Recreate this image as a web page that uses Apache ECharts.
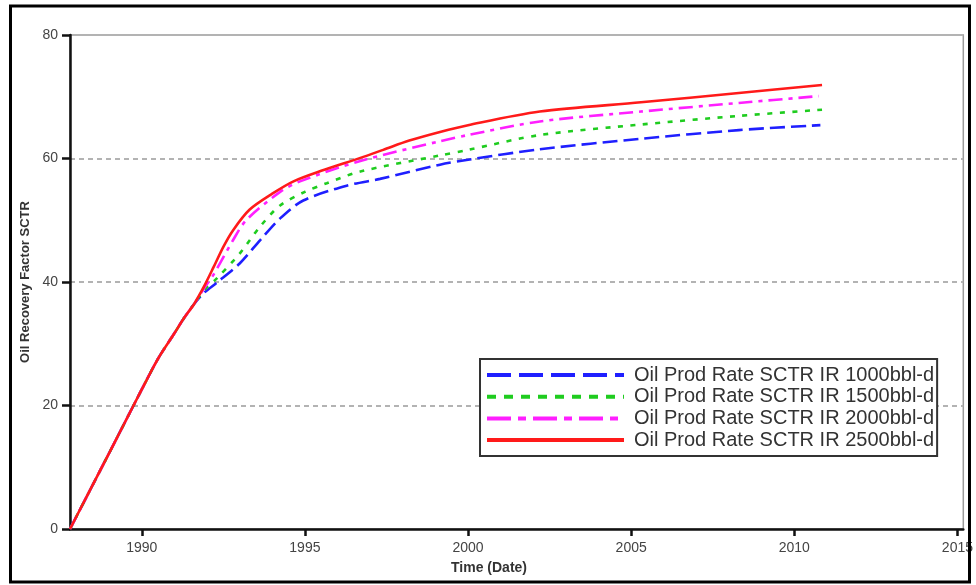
<!DOCTYPE html>
<html>
<head>
<meta charset="utf-8">
<script src="https://cdn.jsdelivr.net/npm/echarts@6/dist/echarts.min.js"></script>
<style>
html,body{margin:0;padding:0;background:#fff;}
#chart{width:976px;height:585px;}
</style>
</head>
<body>
<div id="chart"></div>
<script>
// ---- data ----
const seriesNames = [
  'Oil Prod Rate SCTR IR 1000bbl-d',
  'Oil Prod Rate SCTR IR 1500bbl-d',
  'Oil Prod Rate SCTR IR 2000bbl-d',
  'Oil Prod Rate SCTR IR 2500bbl-d'
];
const xTickValues = [1990, 1995, 2000, 2005, 2010, 2015];
const yTickValues = [0, 20, 40, 60, 80];

// shared early history (all cases identical)
const commonYears  = [1987.8, 1989.0, 1990.0, 1990.5, 1991.0, 1991.3, 1991.6];
const commonValues = [0, 12.3, 22.6, 27.6, 31.7, 34.2, 36.4];

const ir1000Years  = [1991.9, 1992.3, 1993.0, 1993.63, 1994.24, 1994.95, 1996.28, 1997.3, 1999.14, 2000.0, 2002.2, 2005.3, 2008.3, 2010.8];
const ir1000Values = [38.2, 39.9, 43.0, 46.8, 50.3, 53.2, 55.6, 56.7, 59.0, 59.8, 61.5, 63.2, 64.6, 65.4];

const ir1500Years  = [1991.9, 1992.3, 1993.0, 1993.63, 1994.24, 1995.0, 1995.67, 1996.7, 1999.14, 2000.0, 2002.2, 2005.3, 2008.3, 2010.85];
const ir1500Values = [38.6, 40.6, 44.6, 49.0, 52.4, 54.6, 56.0, 57.9, 60.5, 61.4, 63.8, 65.5, 66.9, 67.9];

const ir2000Years  = [1991.9, 1992.2, 1992.8, 1993.2, 1994.24, 1994.85, 1996.7, 1999.14, 2000.0, 2002.2, 2005.3, 2008.3, 2010.75];
const ir2000Values = [38.9, 41.2, 46.8, 50.0, 54.6, 56.3, 59.6, 62.8, 63.8, 66.0, 67.6, 69.0, 70.1];

const ir2500Years  = [1991.9, 1992.2, 1992.5, 1992.8, 1993.3, 1994.0, 1994.65, 1995.5, 1996.7, 1997.4, 1998.2, 1999.14, 2000.0, 2002.2, 2005.3, 2008.3, 2010.85];
const ir2500Values = [39.2, 42.4, 45.7, 48.4, 51.7, 54.3, 56.3, 58.0, 60.1, 61.4, 62.9, 64.3, 65.4, 67.6, 69.1, 70.6, 71.9];

function pairs(xs, ys) {
  const a = commonYears.map((x, i) => [x, commonValues[i]]);
  return a.concat(xs.map((x, i) => [x, ys[i]]));
}

const FONT = "'Liberation Sans', Arial, sans-serif";
const colors = ['#1f1fff', '#1fcc1f', '#ff1fff', '#ff1a1a'];
const plotDash = [[15, 6], [5, 7.5], [14, 6, 4, 6], 'solid'];
const legendDash = [[24, 8], [9, 8], [24, 7, 8, 7], 'solid'];
const dataSets = [
  [ir1000Years, ir1000Values],
  [ir1500Years, ir1500Values],
  [ir2000Years, ir2000Values],
  [ir2500Years, ir2500Values]
];

const chart = echarts.init(document.getElementById('chart'), null, {renderer: 'canvas'});

const option = {
  animation: false,
  backgroundColor: '#fff',
  textStyle: {fontFamily: FONT},
  grid: {
    left: 70, right: 12, top: 35, bottom: 56,
    show: true, borderColor: '#9a9a9a', borderWidth: 1.5, backgroundColor: 'transparent'
  },
  xAxis: {
    type: 'value',
    min: 1987.8,
    max: 2015.18,
    axisLine: {show: true, lineStyle: {color: '#111', width: 2.5}},
    axisTick: {show: true, customValues: xTickValues, length: 7, lineStyle: {color: '#111', width: 2.5}},
    axisLabel: {customValues: xTickValues, margin: 12, color: '#444', fontSize: 14, fontFamily: FONT,
      formatter: v => String(v)},
    splitLine: {show: false}
  },
  yAxis: {
    type: 'value',
    min: 0, max: 80, interval: 20,
    name: 'Oil Recovery Factor SCTR',
    nameLocation: 'middle',
    nameGap: 31,
    nameTextStyle: {color: '#333', fontSize: 13, fontWeight: 'bold', fontFamily: FONT},
    axisLine: {show: true, lineStyle: {color: '#111', width: 2.5}},
    axisTick: {show: true, length: 8, lineStyle: {color: '#111', width: 2.5}},
    axisLabel: {margin: 12, color: '#444', fontSize: 14, fontFamily: FONT},
    splitLine: {show: true, lineStyle: {color: '#b3b3b3', width: 2, type: [5, 4]}}
  },
  legend: {
    orient: 'vertical',
    left: 480, top: 359,
    padding: [6, 3, 6, 5],
    borderColor: '#333', borderWidth: 2,
    backgroundColor: '#fff',
    itemWidth: 137, itemHeight: 14, itemGap: 1.7,
    selectedMode: false,
    textStyle: {fontSize: 20, lineHeight: 20, color: '#333', fontFamily: FONT, padding: [0, 0, 0, 5]},
    data: seriesNames.map((n, i) => ({
      name: n,
      itemStyle: {opacity: 0},
      lineStyle: {width: 4, type: legendDash[i], color: colors[i], opacity: 1}
    }))
  },
  series: seriesNames.map((n, i) => ({
    name: n,
    type: 'line',
    data: pairs(dataSets[i][0], dataSets[i][1]),
    smooth: 0.3,
    symbol: 'none',
    z: 2 + i,
    lineStyle: {color: colors[i], width: 2.6, type: plotDash[i]},
    itemStyle: {color: colors[i]}
  })),
  graphic: [
    {
      type: 'rect',
      shape: {x: 10.5, y: 6, width: 959, height: 576},
      style: {fill: 'none', stroke: '#000', lineWidth: 3},
      silent: true, z: 100
    },
    {
      type: 'text',
      x: 489, y: 568,
      style: {text: 'Time (Date)', fill: '#333', font: 'bold 14px ' + FONT, align: 'center', verticalAlign: 'middle'},
      silent: true
    }
  ]
};
chart.setOption(option);
</script>
</body>
</html>
